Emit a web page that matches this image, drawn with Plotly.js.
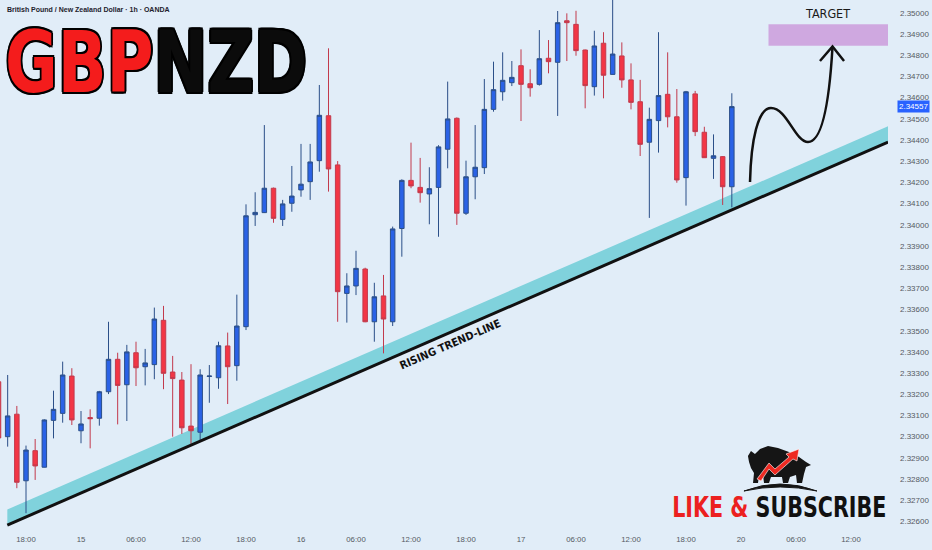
<!DOCTYPE html>
<html>
<head>
<meta charset="utf-8">
<script src="https://cdn.plot.ly/plotly-3.0.1.min.js"></script>
<style>
  html, body { margin: 0; padding: 0; background: #e1edf8; }
  #chart { width: 932px; height: 550px; }
  /* condense the two big headline texts (no narrow font installed) */
  .annotation[data-index="1"] .annotation-text,
  .annotation[data-index="4"] .annotation-text {
    transform-box: fill-box;
    transform-origin: center;
  }
  .annotation[data-index="1"] .annotation-text { transform: scaleX(0.83); }
  .annotation[data-index="4"] .annotation-text { transform: scaleX(0.835); }
</style>
</head>
<body>
<div id="chart"></div>
<script>
// GBPNZD 1h candles, 14th 15:00 -> 17th 23:00 (weekend skipped)
var open = [
  2.33259, 2.33000, 2.33106, 2.32792, 2.32934, 2.32856, 2.33077, 2.33110, 2.33286, 2.33028,
  2.33090, 2.33087, 2.33212, 2.33365, 2.33245, 2.33396, 2.33330, 2.33340, 2.33549, 2.33305,
  2.33267, 2.33050, 2.33021, 2.33284, 2.33278, 2.33428, 2.33335, 2.33519, 2.34047, 2.34057,
  2.34172, 2.34025, 2.34101, 2.34164, 2.34203, 2.34302, 2.34514, 2.34282, 2.33676, 2.33711,
  2.33791, 2.33542, 2.33664, 2.33542, 2.33982, 2.34209, 2.34176, 2.34145, 2.34176, 2.34356,
  2.34502, 2.34054, 2.34226, 2.34269, 2.34544, 2.34627, 2.34670, 2.34750, 2.34665, 2.34662,
  2.34785, 2.34766, 2.34962, 2.34945, 2.34824, 2.34651, 2.34856, 2.34709, 2.34796, 2.34683,
  2.34580, 2.34389, 2.34491, 2.34615, 2.34509, 2.34222, 2.34617, 2.34436, 2.34313, 2.34321,
  2.34179
];
var high = [
  2.33291, 2.33291, 2.33145, 2.32958, 2.32989, 2.33082, 2.33217, 2.33354, 2.33323, 2.33121,
  2.33129, 2.33216, 2.33542, 2.33396, 2.33433, 2.33448, 2.33414, 2.33609, 2.33617, 2.33381,
  2.33305, 2.33342, 2.33318, 2.33338, 2.33448, 2.33491, 2.33670, 2.34096, 2.34153, 2.34470,
  2.34175, 2.34117, 2.34277, 2.34381, 2.34381, 2.34659, 2.34832, 2.34300, 2.33771, 2.33877,
  2.33797, 2.33726, 2.33763, 2.33991, 2.34214, 2.34387, 2.34315, 2.34271, 2.34375, 2.34675,
  2.34506, 2.34302, 2.34470, 2.34687, 2.34769, 2.34813, 2.34772, 2.34827, 2.34733, 2.34918,
  2.34871, 2.35008, 2.34997, 2.35009, 2.34826, 2.34915, 2.34908, 2.35074, 2.34860, 2.34761,
  2.34683, 2.34552, 2.34908, 2.34813, 2.34640, 2.34631, 2.34631, 2.34462, 2.34426, 2.34324,
  2.34620
];
var low = [
  2.32975, 2.32953, 2.32757, 2.32639, 2.32796, 2.32855, 2.32992, 2.33066, 2.33055, 2.32969,
  2.32945, 2.33052, 2.33201, 2.33058, 2.33074, 2.33239, 2.33242, 2.33271, 2.33224, 2.33000,
  2.33013, 2.32966, 2.32984, 2.33160, 2.33226, 2.33154, 2.33264, 2.33503, 2.33994, 2.34055,
  2.34009, 2.33994, 2.34061, 2.34132, 2.34117, 2.34250, 2.34156, 2.33542, 2.33538, 2.33668,
  2.33540, 2.33448, 2.33393, 2.33522, 2.33849, 2.34172, 2.34104, 2.34002, 2.33943, 2.34266,
  2.33999, 2.34046, 2.34120, 2.34239, 2.34533, 2.34585, 2.34654, 2.34489, 2.34604, 2.34656,
  2.34714, 2.34513, 2.34772, 2.34797, 2.34549, 2.34609, 2.34596, 2.34708, 2.34646, 2.34544,
  2.34324, 2.34032, 2.34340, 2.34459, 2.34198, 2.34090, 2.34418, 2.34315, 2.34216, 2.34093,
  2.34082
];
var close = [
  2.32994, 2.33098, 2.32785, 2.32937, 2.32862, 2.33079, 2.33129, 2.33291, 2.33079, 2.33060,
  2.33085, 2.33212, 2.33365, 2.33242, 2.33400, 2.33325, 2.33348, 2.33555, 2.33299, 2.33274,
  2.33042, 2.33028, 2.33291, 2.33286, 2.33429, 2.33330, 2.33522, 2.34042, 2.34058, 2.34172,
  2.34030, 2.34098, 2.34135, 2.34191, 2.34296, 2.34516, 2.34263, 2.33684, 2.33711, 2.33794,
  2.33542, 2.33660, 2.33555, 2.33980, 2.34209, 2.34183, 2.34151, 2.34170, 2.34367, 2.34499,
  2.34054, 2.34226, 2.34271, 2.34544, 2.34637, 2.34681, 2.34695, 2.34662, 2.34646, 2.34783,
  2.34769, 2.34953, 2.34953, 2.34821, 2.34656, 2.34843, 2.34705, 2.34805, 2.34683, 2.34577,
  2.34379, 2.34497, 2.34609, 2.34509, 2.34211, 2.34627, 2.34439, 2.34316, 2.34325, 2.34179,
  2.34557
];
var lastPrice = 2.34557;

// time axis labels (bar index -> label)
var tickBars = [3, 9, 15, 21, 27, 33, 39, 45, 51, 57, 63, 69, 75, 81, 87, 93];
var tickText = ['18:00', '15', '06:00', '12:00', '18:00', '16', '06:00', '12:00',
                '18:00', '17', '06:00', '12:00', '18:00', '20', '06:00', '12:00'];

// drawings: trend line and target zone, in (bar, price)
var trendStart = [0.96, 2.32583];
var trendEnd = [97.04, 2.34390];
var trendBand = 0.00074;
var targetZone = { from: 84, to: 97.04, low: 2.34844, high: 2.34945 };

var bar = open.map(function (_, i) { return i; });

var BG = '#e1edf8';
var COND = '"DejaVu Sans Condensed", "DejaVu Sans", sans-serif';
var SANS = '"Liberation Sans", Arial, sans-serif';
var PW = 888, PH = 530;  // plot area in pixels

// pixel -> paper helpers for the hand drawn bits
function pt(x, y) {
    return (x / PW).toFixed(4) + ',' + (1 - y / PH).toFixed(4);
}
function poly(pts) {
    return 'M' + pts.map(function (p) { return pt(p[0], p[1]); }).join(' L') + ' Z';
}

var trace = {
    type: 'candlestick',
    x: bar,
    open: open,
    high: high,
    low: low,
    close: close,
    whiskerwidth: 0,
    hoverinfo: 'skip',
    increasing: { line: { color: '#2b4f88', width: 1 }, fillcolor: '#2a62e6' },
    decreasing: { line: { color: '#c23a4c', width: 1 }, fillcolor: '#f23645' }
};

var bullBody = [[749,462],[748,456],[751,451],[755,454],[760,449],[768,446],[778,448],[789,452],
    [799,457],[806,462],[811,465],[806,467],[804,474],[802,483],[797,483],[796,475],[790,477],
    [788,483],[783,483],[782,477],[771,477],[769,483],[764,483],[763,475],[759,476],[758,483],
    [753,483],[754,473],[751,468]];
var bullArrow = [[757,479],[769,463],[775,469],[789,457],[786,454],[799,449],[797,461],[793,459],
    [775,475],[769,469],[761,481]];

var shapes = [
    {
        type: 'path', xref: 'x', yref: 'y', layer: 'below',
        path: 'M' + trendStart[0] + ',' + trendStart[1] +
              ' L' + trendStart[0] + ',' + (trendStart[1] + trendBand) +
              ' L' + trendEnd[0] + ',' + (trendEnd[1] + trendBand) +
              ' L' + trendEnd[0] + ',' + trendEnd[1] + ' Z',
        fillcolor: '#80d2dc', line: { width: 0 }
    },
    {
        type: 'line', xref: 'x', yref: 'y',
        x0: trendStart[0], y0: trendStart[1], x1: trendEnd[0], y1: trendEnd[1],
        line: { color: '#111111', width: 3 }
    },
    {
        type: 'rect', xref: 'x', yref: 'y', layer: 'below',
        x0: targetZone.from, x1: targetZone.to, y0: targetZone.low, y1: targetZone.high,
        fillcolor: '#cfa8e0', line: { width: 0 }
    },
    {
        // the forecast squiggle
        type: 'path', xref: 'paper', yref: 'paper',
        path: 'M' + pt(750, 182) +
              ' C' + pt(751, 140) + ' ' + pt(758, 108) + ' ' + pt(771, 108) +
              ' C' + pt(787, 108) + ' ' + pt(795, 142) + ' ' + pt(808, 142) +
              ' C' + pt(824, 142) + ' ' + pt(830, 90) + ' ' + pt(832.5, 47),
        line: { color: '#111111', width: 2.5 }
    },
    {
        type: 'path', xref: 'paper', yref: 'paper',
        path: 'M' + pt(820, 61) + ' L' + pt(832.5, 46.5) + ' L' + pt(844, 61),
        line: { color: '#111111', width: 2.5 }
    },
    {
        type: 'path', xref: 'paper', yref: 'paper',
        path: poly(bullBody), fillcolor: '#151515', line: { width: 0 }
    },
    {
        type: 'path', xref: 'paper', yref: 'paper',
        path: poly(bullArrow), fillcolor: '#ee2a22', line: { color: '#ffffff', width: 0.6 }
    },
    {
        type: 'path', xref: 'paper', yref: 'paper',
        path: 'M' + pt(744, 491) + ' Q' + pt(780, 477) + ' ' + pt(817, 491) +
              ' Q' + pt(780, 483) + ' ' + pt(744, 491) + ' Z',
        fillcolor: '#151515', line: { color: '#151515', width: 1 }
    }
];

var outline = '2px 0 #000, -2px 0 #000, 0 2px #000, 0 -2px #000, ' +
              '1.5px 1.5px #000, -1.5px -1.5px #000, 1.5px -1.5px #000, -1.5px 1.5px #000';

var annotations = [
    {
        xref: 'paper', yref: 'paper', x: 5 / PW, y: 1 - 10 / PH,
        xanchor: 'left', yanchor: 'middle', showarrow: false,
        text: 'British Pound / New Zealand Dollar · 1h · OANDA',
        font: { family: SANS, size: 7, color: '#1e222d', weight: 700 }
    },
    {
        xref: 'paper', yref: 'paper', x: 155.5 / PW, y: 1 - 62 / PH,
        xanchor: 'center', yanchor: 'middle', showarrow: false,
        text: '<span style="color:#f41c1c">GBP</span>NZD',
        font: { family: COND, size: 86, color: '#0b0b0b', weight: 700, shadow: outline }
    },
    {
        xref: 'paper', yref: 'paper', x: 827.5 / PW, y: 1 - 13.5 / PH,
        xanchor: 'center', yanchor: 'middle', showarrow: false,
        text: 'TARGET',
        font: { family: COND, size: 12.5, color: '#1a1a1a' }
    },
    {
        xref: 'x', yref: 'y', x: 49.31, y: 2.33433,
        xanchor: 'center', yanchor: 'middle', showarrow: false,
        text: 'RISING TREND-LINE', textangle: -23.5,
        font: { family: COND, size: 11, color: '#111111', weight: 700 }
    },
    {
        xref: 'paper', yref: 'paper', x: 779.5 / PW, y: 1 - 506.5 / PH,
        xanchor: 'center', yanchor: 'middle', showarrow: false,
        text: '<span style="color:#ec2020">LIKE &amp;</span> SUBSCRIBE',
        font: { family: COND, size: 27.5, color: '#111111', weight: 700 }
    },
    {
        xref: 'paper', yref: 'y', x: 896.7 / PW, y: lastPrice,
        xanchor: 'left', yanchor: 'middle', showarrow: false,
        text: lastPrice.toFixed(5), bgcolor: '#2962ff', borderpad: 1,
        font: { family: SANS, size: 8, color: '#ffffff' }
    }
];

var layout = {
    width: 932,
    height: 550,
    margin: { l: 0, r: 44, t: 0, b: 20 },
    paper_bgcolor: BG,
    plot_bgcolor: BG,
    showlegend: false,
    dragmode: false,
    xaxis: {
        range: [0.164, 97.036],
        tickvals: tickBars,
        ticktext: tickText,
        showgrid: false, zeroline: false, showline: false, ticks: '',
        ticklabelstandoff: 3,
        tickfont: { family: SANS, size: 7.8, color: '#555a63' },
        rangeslider: { visible: false }
    },
    yaxis: {
        side: 'right',
        range: [2.325598, 2.350599],
        tick0: 2.35, dtick: 0.001, tickformat: '.5f',
        showgrid: false, zeroline: false, showline: false, ticks: '',
        ticklabelstandoff: 11,
        tickfont: { family: SANS, size: 8, color: '#555a63' }
    },
    shapes: shapes,
    annotations: annotations
};

Plotly.newPlot('chart', [trace], layout, { displayModeBar: false, staticPlot: true });
</script>
</body>
</html>
